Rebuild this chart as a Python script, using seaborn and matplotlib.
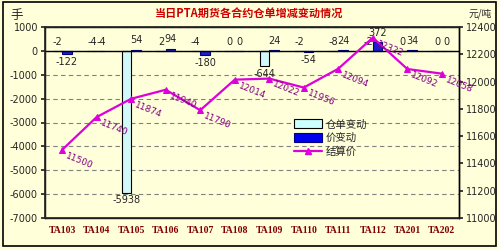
import numpy as np
import pandas as pd
import matplotlib
matplotlib.use("Agg")
import matplotlib.pyplot as plt
from matplotlib.patches import Patch, Rectangle
from matplotlib.lines import Line2D
import seaborn as sns

# ---- data ----
contracts = ["TA103", "TA104", "TA105", "TA106", "TA107", "TA108",
             "TA109", "TA110", "TA111", "TA112", "TA201", "TA202"]
cangdan_change = [-2, -4, -5938, 2, -4, 0, -644, -2, -8, -2, 0, 0]
price_change = [-122, -4, 54, 94, -180, 0, 24, -54, 24, 372, 34, 0]
settle_price = [11500, 11740, 11874, 11940, 11790, 12014, 12022, 11956,
                12094, 12322, 12092, 12058]
left_ticks = [1000, 0, -1000, -2000, -3000, -4000, -5000, -6000, -7000]
right_ticks = [11000, 11200, 11400, 11600, 11800, 12000, 12200, 12400]
series_names = ["仓单变动", "价变动", "结算价"]

sns.set_theme(style="white")
plt.rcParams["font.family"] = ["Noto Sans CJK SC", "DejaVu Sans"]
plt.rcParams["axes.unicode_minus"] = False

BG = "#FFFFD9"
C_LIGHT = "#CCFFFF"
C_DARK = "#0000EE"
C_LINE = "#DD00DD"
C_LBL = "#800080"

df = pd.DataFrame({
    "合约": contracts * 2,
    "系列": [series_names[0]] * len(contracts) + [series_names[1]] * len(contracts),
    "值": cangdan_change + price_change,
})

fig = plt.figure(figsize=(4.99, 2.50), dpi=100, facecolor=BG)
ax = fig.add_axes([0.090, 0.128, 0.830, 0.764])
ax.set_facecolor(BG)

sns.barplot(data=df, x="合约", y="值", hue="系列", hue_order=series_names[:2],
            palette={series_names[0]: C_LIGHT, series_names[1]: C_DARK},
            width=0.56, edgecolor="black", linewidth=0.8, ax=ax, legend=False,
            errorbar=None, zorder=3)
for p in ax.containers[1].patches:
    p.set_edgecolor("#000080")

ax.set_xlim(-0.5, len(contracts) - 0.5)
ax.set_ylim(left_ticks[-1], left_ticks[0])
ax.set_yticks(left_ticks)
ax.set_yticklabels([str(t) for t in left_ticks], fontsize=7, family="DejaVu Sans")
ax.set_xlabel("")
ax.set_ylabel("")
ax.tick_params(axis="x", labelsize=7, colors="#800000", length=0, pad=6)
for lbl in ax.get_xticklabels():
    lbl.set_family("Liberation Serif")
    lbl.set_fontweight("bold")
    lbl.set_fontsize(7)
ax.tick_params(axis="y", length=3, direction="out", left=True, pad=2)
ax.yaxis.grid(True, linestyle=(0, (4, 3)), color="#808080", linewidth=0.8)
ax.set_axisbelow(True)
ax.axhline(0, color="black", linewidth=1.0, zorder=4)
for s in ax.spines.values():
    s.set_color("black")
    s.set_linewidth(1.0)

# bar value labels
for cont, vals in zip(ax.containers, [cangdan_change, price_change]):
    for p, v in zip(cont.patches, vals):
        xc = p.get_x() + p.get_width() / 2
        if v >= -10:
            y = max(v, 0)
            ax.annotate(str(v), (xc, y), xytext=(0, 3), textcoords="offset points",
                        ha="center", va="bottom", fontsize=7, family="DejaVu Sans",
                        zorder=6)
        else:
            ax.annotate(str(v), (xc, v), xytext=(0, -2), textcoords="offset points",
                        ha="center", va="top", fontsize=7, family="DejaVu Sans",
                        zorder=6)

# settlement price line
ax2 = ax.twinx()
xpos = np.arange(len(contracts))
sns.lineplot(x=xpos, y=settle_price, ax=ax2, color=C_LINE, linewidth=1.6,
             marker="^", markersize=5, markeredgecolor=C_LINE, label=series_names[2],
             zorder=5)
ax2.set_ylim(right_ticks[0], right_ticks[-1])
ax2.set_yticks(right_ticks)
ax2.set_yticklabels([str(t) for t in right_ticks], fontsize=7, family="DejaVu Sans")
ax2.tick_params(axis="y", length=3, direction="out", right=True, pad=2)
ax2.set_ylabel("")
ax2.spines["right"].set_color("black")
ax2.spines["right"].set_linewidth(1.0)
for xv, yv in zip(xpos, settle_price):
    ax2.annotate(str(yv), (xv, yv), xytext=(4, -1), textcoords="offset points",
                 ha="left", va="top", rotation=-22, rotation_mode="anchor",
                 fontsize=6.5, color=C_LBL, family="DejaVu Sans", zorder=7)

handles = [Patch(facecolor=C_LIGHT, edgecolor="black", linewidth=0.8),
           Patch(facecolor=C_DARK, edgecolor="#000080", linewidth=0.8),
           Line2D([0], [0], color=C_LINE, linewidth=1.6, marker="^", markersize=5)]
leg = ax2.legend(handles, series_names, loc="upper left",
                 bbox_to_anchor=(0.585, 0.555), frameon=False, fontsize=7.5,
                 handlelength=2.6, handleheight=0.9, labelspacing=0.35,
                 handletextpad=0.4, borderpad=0.2)

fig.text(0.5, 0.945, "当日PTA期货各合约仓单增减变动情况", ha="center", va="center",
         fontsize=8, fontweight="bold", color="#CC0000")
fig.text(0.02, 0.94, "手", ha="left", va="center", fontsize=9)
fig.text(0.985, 0.945, "元/吨", ha="right", va="center", fontsize=7)

fig.add_artist(Rectangle((0.006, 0.016), 0.988, 0.976, transform=fig.transFigure,
                         fill=False, edgecolor="black", linewidth=1.2))

fig.savefig("out.png", dpi=100, facecolor=BG)
